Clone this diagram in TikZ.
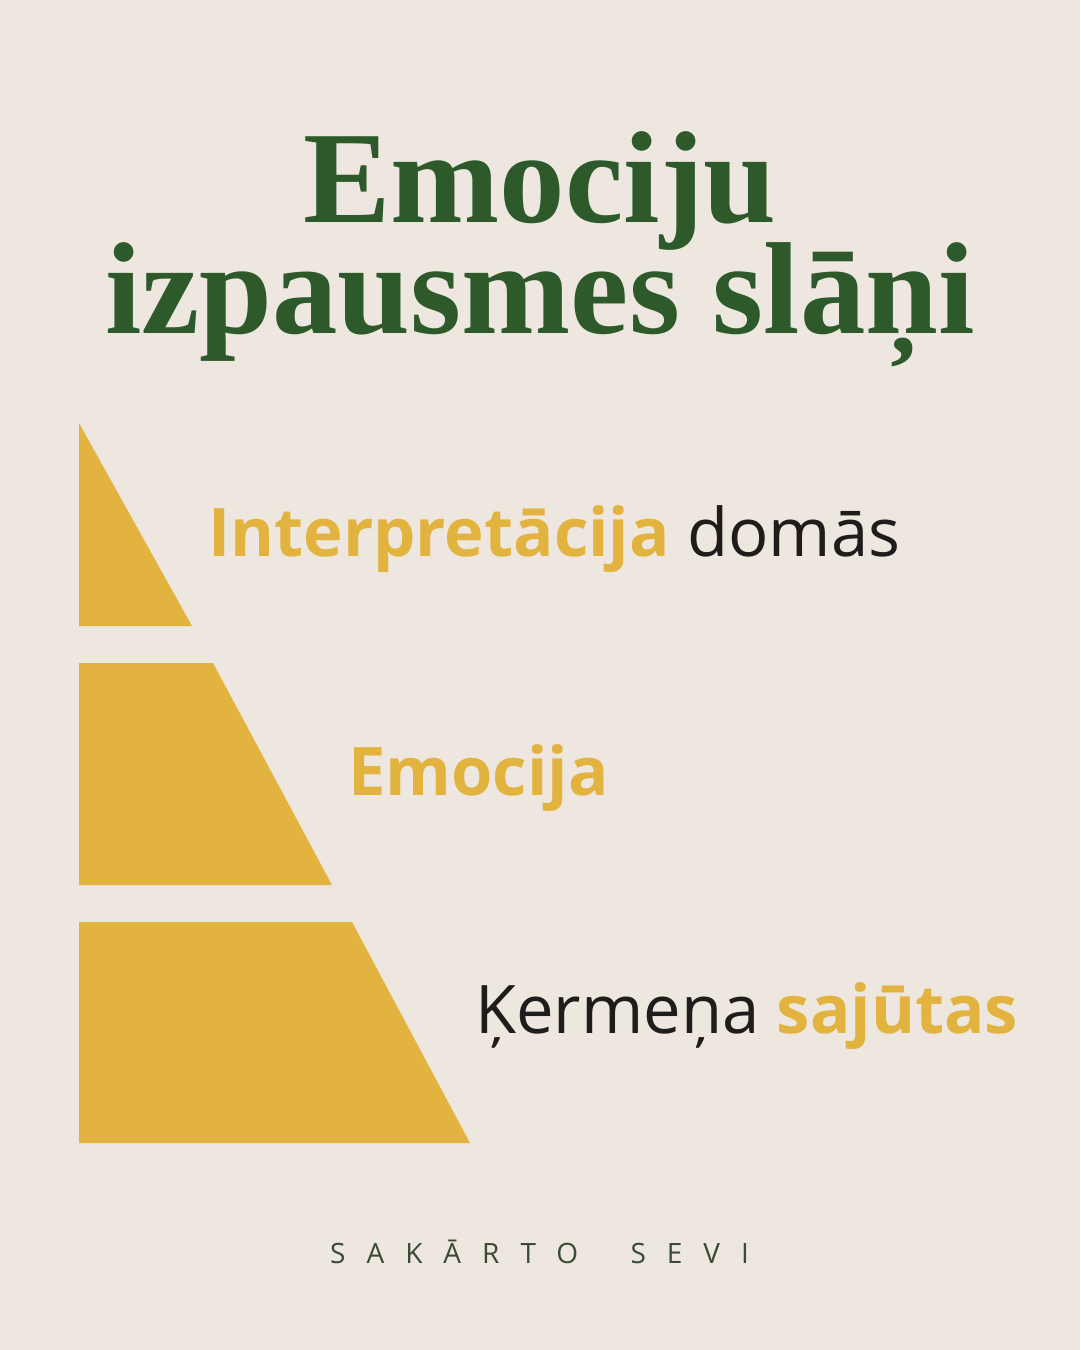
\documentclass[tikz,border=0pt]{standalone}
\usepackage{fontspec}
\setmainfont{Open Sans}
\newfontfamily\titlefont{Liberation Serif}
\newfontfamily\footfont[LetterSpace=75]{Open Sans}
\definecolor{paper}{HTML}{EDE7DF}
\definecolor{mustard}{HTML}{E2B33E}
\definecolor{forest}{HTML}{2E5A2B}
\definecolor{ink}{HTML}{1F1D1B}
\definecolor{moss}{HTML}{3B4B36}
\begin{document}
\begin{tikzpicture}[x=1pt,y=-1pt,
	layer/.style={fill=mustard},
	heading/.style={anchor=base,inner sep=0pt,text=forest,font=\titlefont\bfseries\fontsize{131}{131}\selectfont},
	tier/.style={anchor=base west,inner sep=0pt,font=\fontsize{67}{67}\selectfont}]
		\fill[paper] (0,0) rectangle (1080,1350);
		% title
		\node[heading] (t1) at (540,222) {Emociju};
		\node[heading] (t2) at (540,333) {izpausmes slāņi};
		% pyramid layers
		\coordinate (apex) at (79,423);
		\fill[layer] (apex) -- (192,626) -- (79,626) -- cycle;
		\fill[layer] (79,663) -- (213,663) -- (332,885) -- (79,885) -- cycle;
		\fill[layer] (79,922) -- (352,922) -- (470,1143) -- (79,1143) -- cycle;
		% labels
		\node[tier] (top) at (208,556) {\textcolor{mustard}{\bfseries Interpretācija} \textcolor{ink}{domās}};
		\node[tier] (mid) at (348,795) {\textcolor{mustard}{\bfseries Emocija}};
		\node[tier] (low) at (475,1033) {\textcolor{ink}{Ķermeņa} \textcolor{mustard}{\bfseries sajūtas}};
		\node[anchor=base west,inner sep=0pt,text=moss,font=\footfont\fontsize{28}{28}\selectfont] (brand) at (330,1263) {SAKĀRTO\hspace{24pt} SEVI};
	\end{tikzpicture}
\end{document}
